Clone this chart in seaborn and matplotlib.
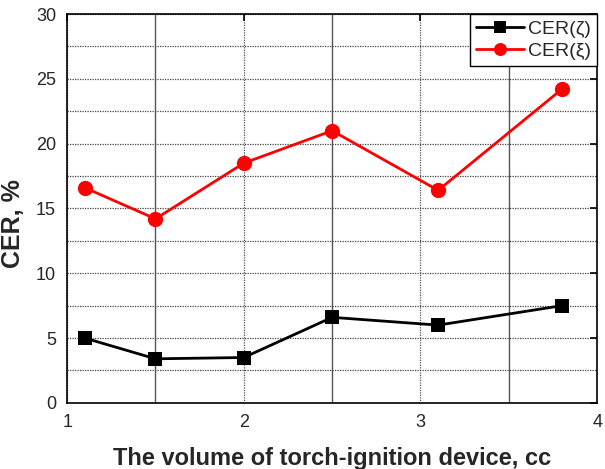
import matplotlib
matplotlib.use('Agg')
import matplotlib.pyplot as plt
import numpy as np
import pandas as pd
import seaborn as sns
from matplotlib.ticker import MultipleLocator

volume = [1.1, 1.5, 2.0, 2.5, 3.1, 3.8]
cer_zeta = [5.0, 3.4, 3.5, 6.6, 6.0, 7.5]
cer_xi = [16.6, 14.2, 18.5, 21.0, 16.4, 24.2]
series_names = ['CER(ζ)', 'CER(ξ)']

df = pd.DataFrame({
    'volume': volume * 2,
    'cer': cer_zeta + cer_xi,
    'series': [series_names[0]] * len(volume) + [series_names[1]] * len(volume),
})

sns.set_style('white')
plt.rcParams['font.family'] = ['Liberation Sans', 'DejaVu Sans']

fig = plt.figure(figsize=(6.05, 4.69), dpi=100)
ax = fig.add_axes([0.111, 0.141, 0.876, 0.829])

# grid below the lines
ax.set_axisbelow(True)
ax.xaxis.set_major_locator(MultipleLocator(1))
ax.xaxis.set_minor_locator(MultipleLocator(0.5))
ax.yaxis.set_major_locator(MultipleLocator(5))
ax.yaxis.set_minor_locator(MultipleLocator(2.5))
ax.grid(which='major', axis='x', color='#555555', linestyle=(0, (1, 1)), linewidth=0.9)
ax.grid(which='minor', axis='x', color='#555555', linestyle='-', linewidth=1.0)
ax.grid(which='both', axis='y', color='#444444', linestyle=(0, (1, 1)), linewidth=0.9)

sns.lineplot(data=df, x='volume', y='cer', hue='series', style='series',
             palette={series_names[0]: 'black', series_names[1]: '#ff0000'},
             markers={series_names[0]: 's', series_names[1]: 'o'},
             dashes=False, markersize=11, linewidth=2, markeredgewidth=0,
             ax=ax)
ax.lines[0].set_markersize(10)

ax.set_xlim(1, 4)
ax.set_ylim(0, 30)
ax.tick_params(which='major', direction='in', length=5, width=1.2, labelsize=13,
               top=True, right=True, color='black', pad=8)
ax.tick_params(which='minor', length=0)
for s in ax.spines.values():
    s.set_visible(True)
    s.set_color('black')
    s.set_linewidth(1.2)

ax.set_xlabel('The volume of torch-ignition device, cc', fontsize=17, fontweight='bold')
ax.xaxis.set_label_coords(0.5, -0.113)
ax.set_ylabel('CER, %', fontsize=18, fontweight='bold')
ax.yaxis.set_label_coords(-0.08, 0.46)

leg = ax.legend(loc='upper right', fontsize=14, frameon=True, fancybox=False,
                borderaxespad=0.0, handlelength=2.5, handletextpad=0.2,
                borderpad=0.3, labelspacing=0.25, markerscale=0.85)
leg.get_frame().set_edgecolor('black')
leg.get_frame().set_linewidth(1.0)
leg.get_frame().set_alpha(1)

fig.savefig('out.png', dpi=100)
